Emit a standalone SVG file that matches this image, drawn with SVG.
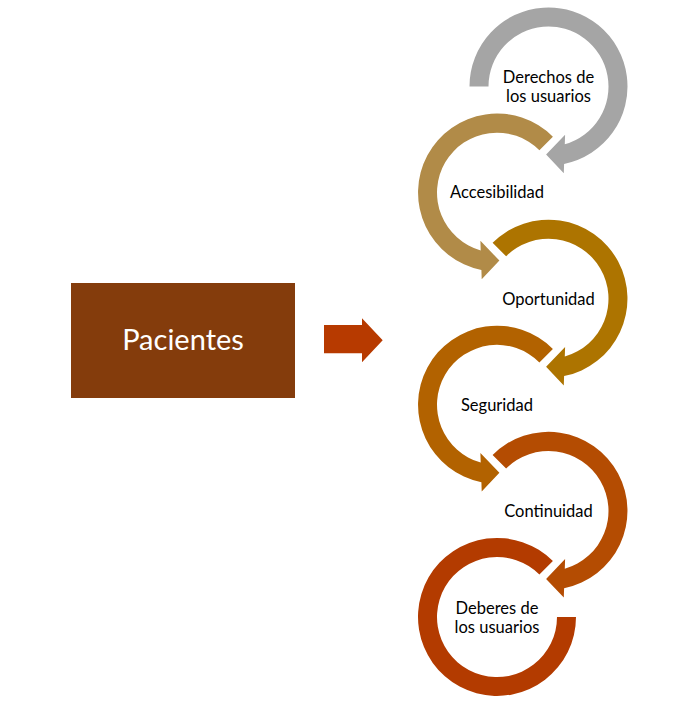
<svg xmlns="http://www.w3.org/2000/svg" width="674" height="719" viewBox="0 0 674 719">
<style>
.lbl{font-family:Lato,"Open Sans","Liberation Sans",sans-serif;font-size:16.5px;fill:#000;text-anchor:middle}
.big{font-family:Lato,"Open Sans","Liberation Sans",sans-serif;font-size:29px;fill:#fff;text-anchor:middle}
</style>
<rect width="674" height="719" fill="#fff"/>
<g id="pacientes">
<rect x="71" y="283" width="224" height="115" fill="#843C0C"/>
<text class="big" x="183" y="349.5">Pacientes</text>
</g>
<g id="connectors">
<path d="M324 325 L362 325 L362 318.3 L382.7 340.3 L362 362.3 L362 353.3 L324 353.3 Z" fill="#B73A00"/>
</g>
<g id="ring1">
<path d="M469.5 86.5 A79 79 0 1 1 564.1 163.9 L563.8 173.2 L546.1 154.5 L565.1 134.7 L564.8 144.3 A60 60 0 1 0 488.5 86.5 Z" fill="#A5A5A5"/>
<text class="lbl" x="548.5" y="82.5">Derechos de</text>
<text class="lbl" x="548.5" y="101.5">los usuarios</text>
</g>
<g id="ring2">
<path d="M552.9 136.7 A79 79 0 1 0 481.4 270 L481.7 279.3 L499.4 260.6 L480.4 240.8 L480.7 250.4 A60 60 0 1 1 539.4 150.2 Z" fill="#B18B48"/>
<text class="lbl" x="497" y="197.5">Accesibilidad</text>
</g>
<g id="ring3">
<path d="M492.6 242.8 A79 79 0 1 1 564.1 376.1 L563.8 385.4 L546.1 366.7 L565.1 346.9 L564.8 356.5 A60 60 0 1 0 506.1 256.3 Z" fill="#AD7400"/>
<text class="lbl" x="548.5" y="304.5">Oportunidad</text>
</g>
<g id="ring4">
<path d="M552.9 348.9 A79 79 0 1 0 481.4 482.2 L481.7 491.5 L499.4 472.8 L480.4 453 L480.7 462.6 A60 60 0 1 1 539.4 362.4 Z" fill="#B26200"/>
<text class="lbl" x="497" y="410.5">Seguridad</text>
</g>
<g id="ring5">
<path d="M492.6 455 A79 79 0 1 1 564.1 588.3 L563.8 597.6 L546.1 578.9 L565.1 559.1 L564.8 568.7 A60 60 0 1 0 506.1 468.5 Z" fill="#B44C02"/>
<text class="lbl" x="548.5" y="516.5">Continuidad</text>
</g>
<g id="ring6">
<path d="M552.9 561.1 A79 79 0 1 0 576 617 L557 617 A60 60 0 1 1 539.4 574.6 Z" fill="#B33B00"/>
<text class="lbl" x="497" y="613.5">Deberes de</text>
<text class="lbl" x="497" y="632.5">los usuarios</text>
</g>
</svg>
